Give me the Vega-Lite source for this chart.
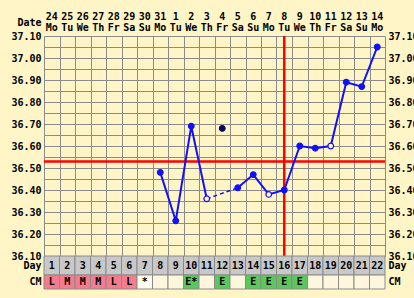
{
  "$schema": "https://vega.github.io/schema/vega-lite/v6.json",
  "background": "#FFF5C6",
  "padding": {"left": 10, "top": 11, "right": 0, "bottom": 9},
  "config": {
    "font": "DejaVu Sans Mono",
    "view": {"stroke": null},
    "axis": {"labelFont": "DejaVu Sans Mono", "labelFontSize": 10, "labelFontWeight": "bold", "labelColor": "#000000", "titleFont": "DejaVu Sans Mono", "titleFontSize": 10, "titleFontWeight": "bold", "titleColor": "#000000"},
    "text": {"font": "DejaVu Sans Mono", "fontSize": 10, "fontWeight": "bold", "color": "#000000"}
  },
  "datasets": {
    "days": [
      {"day": 1, "date": "24", "dow": "Mo", "cm": "L", "cat": "menses"},
      {"day": 2, "date": "25", "dow": "Tu", "cm": "M", "cat": "menses"},
      {"day": 3, "date": "26", "dow": "We", "cm": "M", "cat": "menses"},
      {"day": 4, "date": "27", "dow": "Th", "cm": "M", "cat": "menses"},
      {"day": 5, "date": "28", "dow": "Fr", "cm": "L", "cat": "menses"},
      {"day": 6, "date": "29", "dow": "Sa", "cm": "L", "cat": "menses"},
      {"day": 7, "date": "30", "dow": "Su", "cm": "*", "cat": "spot"},
      {"day": 8, "date": "31", "dow": "Mo", "cm": "", "cat": "none"},
      {"day": 9, "date": "1", "dow": "Tu", "cm": "", "cat": "none"},
      {"day": 10, "date": "2", "dow": "We", "cm": "E*", "cat": "egg"},
      {"day": 11, "date": "3", "dow": "Th", "cm": "", "cat": "none"},
      {"day": 12, "date": "4", "dow": "Fr", "cm": "E", "cat": "egg"},
      {"day": 13, "date": "5", "dow": "Sa", "cm": "", "cat": "none"},
      {"day": 14, "date": "6", "dow": "Su", "cm": "E", "cat": "egg"},
      {"day": 15, "date": "7", "dow": "Mo", "cm": "E", "cat": "egg"},
      {"day": 16, "date": "8", "dow": "Tu", "cm": "E", "cat": "egg"},
      {"day": 17, "date": "9", "dow": "We", "cm": "E", "cat": "egg"},
      {"day": 18, "date": "10", "dow": "Th", "cm": "", "cat": "none"},
      {"day": 19, "date": "11", "dow": "Fr", "cm": "", "cat": "none"},
      {"day": 20, "date": "12", "dow": "Sa", "cm": "", "cat": "none"},
      {"day": 21, "date": "13", "dow": "Su", "cm": "", "cat": "none"},
      {"day": 22, "date": "14", "dow": "Mo", "cm": "", "cat": "none"}
    ],
    "temps": [
      {"day": 8, "temp": 36.48, "kind": "normal", "seg": "a"},
      {"day": 9, "temp": 36.26, "kind": "normal", "seg": "a"},
      {"day": 10, "temp": 36.69, "kind": "normal", "seg": "a"},
      {"day": 11, "temp": 36.36, "kind": "open", "seg": "a"},
      {"day": 12, "temp": 36.68, "kind": "disc", "seg": ""},
      {"day": 13, "temp": 36.41, "kind": "normal", "seg": "b"},
      {"day": 14, "temp": 36.47, "kind": "normal", "seg": "b"},
      {"day": 15, "temp": 36.38, "kind": "open", "seg": "b"},
      {"day": 16, "temp": 36.40, "kind": "normal", "seg": "b"},
      {"day": 17, "temp": 36.60, "kind": "normal", "seg": "b"},
      {"day": 18, "temp": 36.59, "kind": "normal", "seg": "b"},
      {"day": 19, "temp": 36.60, "kind": "open", "seg": "b"},
      {"day": 20, "temp": 36.89, "kind": "normal", "seg": "b"},
      {"day": 21, "temp": 36.87, "kind": "normal", "seg": "b"},
      {"day": 22, "temp": 37.05, "kind": "normal", "seg": "b"}
    ],
    "gaps": [
      {"day": 11, "temp": 36.36, "day2": 13, "temp2": 36.41}
    ]
  },
  "spacing": 0,
  "bounds": "flush",
  "resolve": {"scale": {"fill": "independent", "stroke": "independent", "color": "independent"}},
  "vconcat": [
    {
      "width": 341,
      "height": 22,
      "data": {"name": "days"},
      "layer": [
        {
          "mark": {"type": "text", "baseline": "middle", "dy": -3},
          "encoding": {
            "x": {"field": "day", "type": "ordinal", "scale": {"type": "band", "paddingInner": 0, "paddingOuter": 0}, "axis": null},
            "y": {"datum": "date", "type": "nominal", "scale": {"type": "band", "domain": ["date", "dow"], "paddingInner": 0, "paddingOuter": 0},
                  "axis": {"orient": "left", "labels": false, "ticks": false, "domain": false, "title": "Date", "titleAngle": 0, "titleAlign": "right", "titleBaseline": "middle", "titleX": -3, "titleY": 8}},
            "text": {"field": "date"}
          }
        },
        {
          "mark": {"type": "text", "baseline": "middle", "dy": -3},
          "encoding": {
            "x": {"field": "day", "type": "ordinal", "scale": {"type": "band", "paddingInner": 0, "paddingOuter": 0}, "axis": null},
            "y": {"datum": "dow", "type": "nominal", "axis": null},
            "text": {"field": "dow"}
          }
        }
      ],
      "resolve": {"axis": {"y": "independent"}}
    },
    {
      "width": 341,
      "height": 220,
      "layer": [
        {
          "data": {"values": [{"cover": 36.53}]},
          "mark": {"type": "rule", "color": "#FF0000", "strokeWidth": 2.5},
          "encoding": {
            "y": {"field": "cover", "type": "quantitative", "scale": {"domain": [36.1, 37.1], "nice": false, "zero": false},
                  "axis": {"orient": "left", "values": [36.1, 36.15, 36.2, 36.25, 36.3, 36.35, 36.4, 36.45, 36.5, 36.55, 36.6, 36.65, 36.7, 36.75, 36.8, 36.85, 36.9, 36.95, 37.0, 37.05, 37.1],
                           "labelExpr": "abs(round(datum.value*100) % 10) == 0 ? format(datum.value, '.2f') : ''",
                           "grid": true, "gridColor": "#8c8c8c", "gridWidth": 1, "gridOpacity": 1, "ticks": false, "domain": false, "labelPadding": 3, "title": null}}
          }
        },
        {
          "data": {"values": [{"ovday": 16}]},
          "mark": {"type": "rule", "color": "#FF0000", "strokeWidth": 2.5},
          "encoding": {
            "x": {"field": "ovday", "type": "quantitative", "scale": {"domain": [0.5, 22.5], "nice": false, "zero": false},
                  "axis": {"orient": "bottom", "values": [0.5, 1.5, 2.5, 3.5, 4.5, 5.5, 6.5, 7.5, 8.5, 9.5, 10.5, 11.5, 12.5, 13.5, 14.5, 15.5, 16.5, 17.5, 18.5, 19.5, 20.5, 21.5, 22.5],
                           "grid": true, "gridColor": "#8c8c8c", "gridWidth": 1, "gridOpacity": 1, "labels": false, "ticks": false, "domain": false, "title": null}}
          }
        },
        {
          "data": {"name": "gaps"},
          "mark": {"type": "rule", "color": "#1010FF", "strokeWidth": 1.5, "strokeDash": [4, 3]},
          "encoding": {
            "x": {"field": "day", "type": "quantitative", "axis": null},
            "x2": {"field": "day2"},
            "y": {"field": "temp", "type": "quantitative", "axis": null},
            "y2": {"field": "temp2"}
          }
        },
        {
          "data": {"name": "temps"},
          "transform": [{"filter": "datum.seg != ''"}],
          "mark": {"type": "line", "color": "#1010FF", "strokeWidth": 2},
          "encoding": {
            "x": {"field": "day", "type": "quantitative", "axis": null},
            "y": {"field": "temp", "type": "quantitative", "axis": null},
            "detail": {"field": "seg"}
          }
        },
        {
          "data": {"name": "temps"},
          "mark": {"type": "point", "shape": "circle", "filled": true, "size": 32, "strokeWidth": 1.2, "opacity": 1},
          "encoding": {
            "x": {"field": "day", "type": "quantitative", "axis": null},
            "y": {"field": "temp", "type": "quantitative",
                  "axis": {"orient": "right", "values": [36.1, 36.2, 36.3, 36.4, 36.5, 36.6, 36.7, 36.8, 36.9, 37.0, 37.1], "format": ".2f", "grid": false, "ticks": false, "domain": false, "labelPadding": 3, "title": null}},
            "fill": {"field": "kind", "type": "nominal", "scale": {"domain": ["normal", "open", "disc"], "range": ["#1010FF", "#FFF5C6", "#08085A"]}, "legend": null},
            "stroke": {"field": "kind", "type": "nominal", "scale": {"domain": ["normal", "open", "disc"], "range": ["#1010FF", "#1010FF", "#08085A"]}, "legend": null}
          }
        }
      ],
      "resolve": {"axis": {"x": "independent", "y": "independent"}}
    },
    {
      "width": 341,
      "height": 19,
      "data": {"name": "days"},
      "layer": [
        {
          "mark": {"type": "rect", "fill": "#C8C8C8", "stroke": "#8a8a8a", "strokeWidth": 1},
          "encoding": {
            "x": {"field": "day", "type": "ordinal", "scale": {"type": "band", "paddingInner": 0, "paddingOuter": 0}, "axis": null},
            "y": {"datum": "Day", "type": "nominal", "scale": {"type": "band", "paddingInner": 0, "paddingOuter": 0},
                  "axis": {"orient": "left", "ticks": false, "domain": false, "labelPadding": 3, "title": null}}
          }
        },
        {
          "mark": {"type": "text", "baseline": "middle"},
          "encoding": {
            "x": {"field": "day", "type": "ordinal", "axis": null},
            "y": {"datum": "Day", "type": "nominal", "axis": {"orient": "right", "ticks": false, "domain": false, "labelPadding": 3, "title": null}},
            "text": {"field": "day"}
          }
        }
      ],
      "resolve": {"axis": {"y": "independent"}}
    },
    {
      "width": 341,
      "height": 14,
      "data": {"name": "days"},
      "layer": [
        {
          "mark": {"type": "rect", "stroke": "#8a8a8a", "strokeWidth": 1},
          "encoding": {
            "x": {"field": "day", "type": "ordinal", "scale": {"type": "band", "paddingInner": 0, "paddingOuter": 0}, "axis": null},
            "y": {"datum": "CM", "type": "nominal", "scale": {"type": "band", "paddingInner": 0, "paddingOuter": 0},
                  "axis": {"orient": "left", "ticks": false, "domain": false, "labelPadding": 3, "title": null}},
            "fill": {"field": "cat", "type": "nominal", "scale": {"domain": ["menses", "spot", "none", "egg"], "range": ["#F47C8C", "#FFFCF0", "#FFF6DE", "#5CC85C"]}, "legend": null}
          }
        },
        {
          "mark": {"type": "text", "baseline": "middle"},
          "encoding": {
            "x": {"field": "day", "type": "ordinal", "axis": null},
            "y": {"datum": "CM", "type": "nominal", "axis": {"orient": "right", "ticks": false, "domain": false, "labelPadding": 3, "title": null}},
            "text": {"field": "cm"}
          }
        }
      ],
      "resolve": {"axis": {"y": "independent"}}
    }
  ]
}
